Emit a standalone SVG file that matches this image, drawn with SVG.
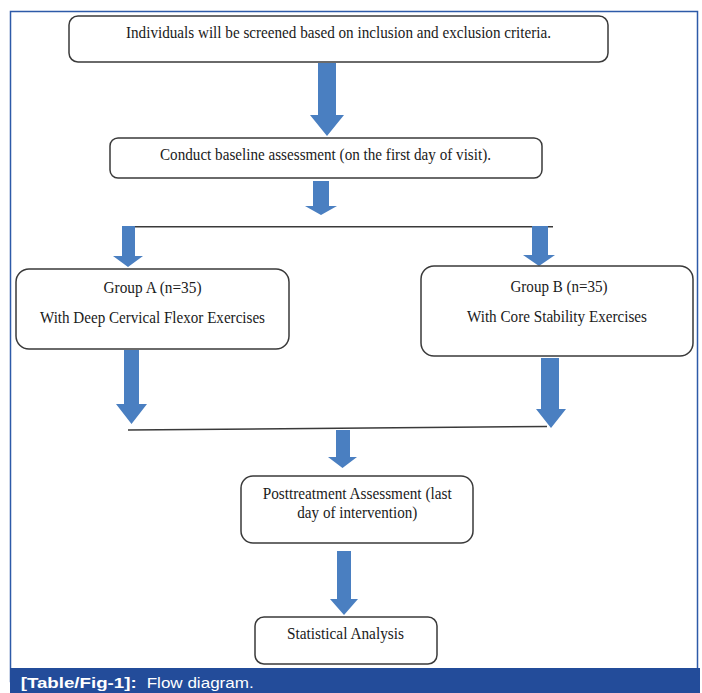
<svg xmlns="http://www.w3.org/2000/svg" width="702" height="693" viewBox="0 0 702 693">
<style>
.box{fill:#fff;stroke:#3a3a3a;stroke-width:1.5}
.t{font-family:"Liberation Serif","Times New Roman",serif;font-size:17px;fill:#1a1a1a;text-anchor:middle}
.arr{fill:#4a7fc1}
.ln{stroke:#3a3a3a;stroke-width:1.5;fill:none}
.cap{font-family:"Liberation Sans",Arial,sans-serif;font-size:15.5px;fill:#fff}
</style>
<rect x="0" y="0" width="702" height="693" fill="#fff"/>
<rect x="10.5" y="11.5" width="687" height="670" fill="#fff" stroke="#2d5aa8" stroke-width="1.5"/>
<g id="connectors">
<polygon class="arr" points="318,63 336,63 336,115 344,115 327,136 310,115 318,115"/>
<polygon class="arr" points="313,181 329,181 329,206 337,206 321,215 305,206 313,206"/>
<path class="ln" d="M135,226.7 L553,226.7"/>
<polygon class="arr" points="122,226 135,226 135,256 143,256 128,267 113,256 122,256"/>
<polygon class="arr" points="532,226 548,226 548,255 555,255 539,266 523,255 532,255"/>
<polygon class="arr" points="124,350 139,350 139,404 147,404 131.5,424 116,404 124,404"/>
<polygon class="arr" points="541,358 559,358 559,409 566,409 551,428 536,409 541,409"/>
<path class="ln" d="M128,430 L547,426.5"/>
<polygon class="arr" points="336,430 350,430 350,457 357,457 342.5,468 328,457 336,457"/>
<polygon class="arr" points="337,551 351,551 351,599 358,599 344,615 330,599 337,599"/>
</g>
<g id="screen">
<rect class="box" x="69" y="16" width="539" height="46" rx="9"/>
<text class="t" x="338.5" y="37.5" textLength="425" lengthAdjust="spacingAndGlyphs">Individuals will be screened based on inclusion and exclusion criteria.</text>
</g>
<g id="baseline">
<rect class="box" x="110" y="138" width="432" height="40" rx="8"/>
<text class="t" x="325.5" y="160" textLength="331" lengthAdjust="spacingAndGlyphs">Conduct baseline assessment (on the first day of visit).</text>
</g>
<g id="groupA">
<rect class="box" x="16" y="269" width="273" height="80" rx="13"/>
<text class="t" x="152.5" y="293.3" textLength="98" lengthAdjust="spacingAndGlyphs">Group A (n=35)</text>
<text class="t" x="152.5" y="323.3" textLength="225" lengthAdjust="spacingAndGlyphs">With Deep Cervical Flexor Exercises</text>
</g>
<g id="groupB">
<rect class="box" x="421" y="266" width="272" height="90" rx="13"/>
<text class="t" x="559" y="291.7" textLength="97" lengthAdjust="spacingAndGlyphs">Group B (n=35)</text>
<text class="t" x="557" y="321.7" textLength="180" lengthAdjust="spacingAndGlyphs">With Core Stability Exercises</text>
</g>
<g id="post">
<rect class="box" x="241" y="476" width="232" height="67" rx="12"/>
<text class="t" x="357.2" y="499.3" textLength="189" lengthAdjust="spacingAndGlyphs">Posttreatment Assessment (last</text>
<text class="t" x="357.3" y="518" textLength="120" lengthAdjust="spacingAndGlyphs">day of intervention)</text>
</g>
<g id="stats">
<rect class="box" x="255" y="617" width="182" height="47" rx="9"/>
<text class="t" x="345.5" y="639.3" textLength="117" lengthAdjust="spacingAndGlyphs">Statistical Analysis</text>
</g>
<g id="caption">
<rect x="10" y="668" width="690" height="25" fill="#234c9a"/>
<text class="cap" x="20.7" y="688" font-weight="bold" textLength="116" lengthAdjust="spacingAndGlyphs">[Table/Fig-1]:</text>
<text class="cap" x="146.7" y="688" textLength="107" lengthAdjust="spacingAndGlyphs">Flow diagram.</text>
</g>
</svg>
